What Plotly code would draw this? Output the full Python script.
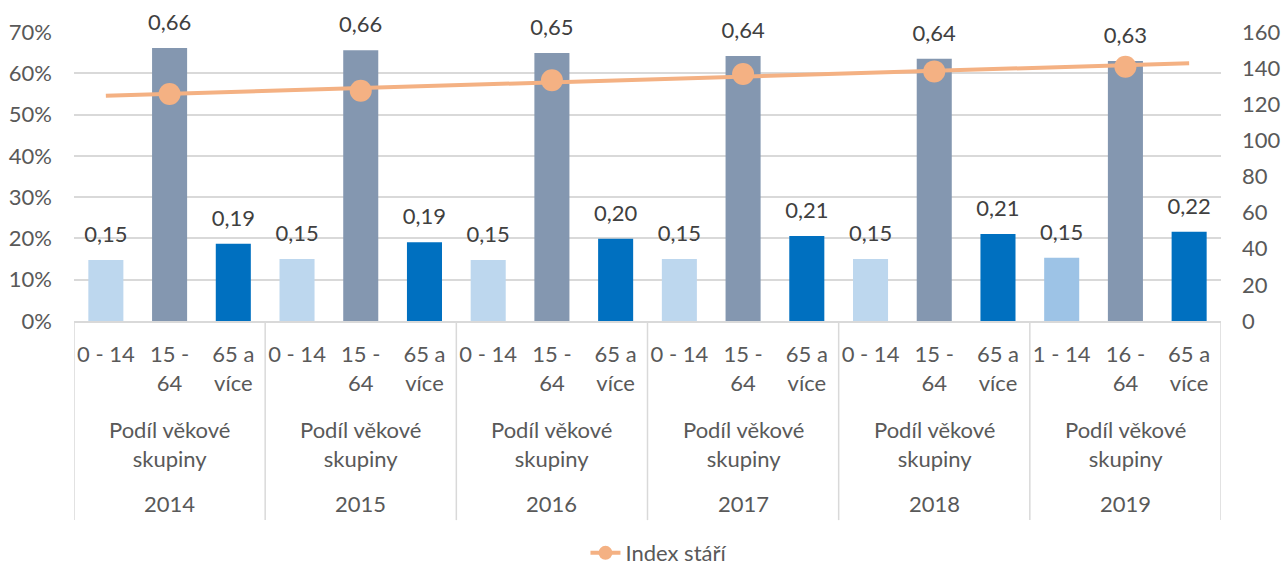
import numpy as np
import plotly.graph_objects as go

years = ["2014", "2015", "2016", "2017", "2018", "2019"]
age_labels = ["0 - 14", "15 -<br>64", "65 a<br>více",
              "0 - 14", "15 -<br>64", "65 a<br>více",
              "0 - 14", "15 -<br>64", "65 a<br>více",
              "0 - 14", "15 -<br>64", "65 a<br>více",
              "0 - 14", "15 -<br>64", "65 a<br>více",
              "1 - 14", "16 -<br>64", "65 a<br>více"]
group_label = "Podíl věkové<br>skupiny"
share_values = [0.148, 0.661, 0.187,
                0.150, 0.656, 0.191,
                0.148, 0.649, 0.199,
                0.150, 0.642, 0.206,
                0.150, 0.635, 0.211,
                0.153, 0.630, 0.216]
index_stari = [125.7, 127.5, 133.3, 136.8, 138.2, 140.8]
line_name = "Index stáří"

# styles
bar_colors = ["#BDD7EE", "#8497B0", "#0070C0"] * 5 + ["#9DC3E6", "#8497B0", "#0070C0"]
orange = "#F4B183"
grid = "#D9D9D9"
txt = "#595959"
FONT = "Lato"
FS = 22

n = len(share_values)
xpos = list(range(n))
mid_pos = [3 * i + 1 for i in range(len(years))]

fig = go.Figure()
fig.add_trace(go.Bar(
    x=xpos, y=share_values, width=0.55,
    marker=dict(color=bar_colors, line=dict(width=0)),
    showlegend=False,
))
# data labels above the bars
fig.add_trace(go.Scatter(
    x=xpos, y=share_values, mode="markers+text",
    marker=dict(size=18, color="rgba(0,0,0,0)"),
    texttemplate="%{y:.2f}", textposition="top center",
    textfont=dict(family=FONT, size=FS, color="#404040"),
    cliponaxis=False, showlegend=False, hoverinfo="skip",
))

# linear trend of the index across the whole category range
coef = np.polyfit(mid_pos, index_stari, 1)
tx = [xpos[0], xpos[-1]]
ty = list(np.polyval(coef, tx))
fig.add_trace(go.Scatter(
    x=tx, y=ty, yaxis="y2", mode="lines",
    line=dict(color=orange, width=4), showlegend=False, hoverinfo="skip",
))
fig.add_trace(go.Scatter(
    x=mid_pos, y=index_stari, yaxis="y2", mode="markers",
    marker=dict(color=orange, size=22), showlegend=False, cliponaxis=False,
))
fig.add_trace(go.Scatter(
    x=[None], y=[None], yaxis="y2", mode="lines+markers", name=line_name,
    line=dict(color=orange, width=4), marker=dict(color=orange, size=14),
))

# multi-level category labels
for i, yr in enumerate(years):
    c = 3 * i + 1
    fig.add_annotation(x=c, y=-0.4256, xref="x", yref="paper", text=group_label,
                       showarrow=False, yanchor="middle",
                       font=dict(family=FONT, size=FS, color=txt))
    fig.add_annotation(x=c, y=-0.633, xref="x", yref="paper", text=yr,
                       showarrow=False, yanchor="middle",
                       font=dict(family=FONT, size=FS, color=txt))
for k in range(len(years) + 1):
    xd = 3 * k - 0.5
    fig.add_shape(type="line", xref="x", yref="paper", x0=xd, x1=xd, y0=0, y1=-0.689,
                  line=dict(color=grid, width=1.5))

fig.update_layout(
    width=1283, height=566,
    margin=dict(l=74, r=62, t=32, b=245, autoexpand=False),
    paper_bgcolor="white", plot_bgcolor="white",
    separators=", ",
    font=dict(family=FONT, size=FS, color=txt),
    bargap=0.45,
    xaxis=dict(range=[-0.5, n - 0.5], tickmode="array", tickvals=xpos, ticktext=age_labels,
               showgrid=False, zeroline=False, showline=True, linecolor=grid, linewidth=1.5,
               ticks="", ticklabelstandoff=13, automargin=False,
               tickfont=dict(family=FONT, size=FS, color=txt)),
    yaxis=dict(range=[0, 0.7], dtick=0.1, tickformat=".0%", showgrid=True, gridcolor=grid,
               gridwidth=1.5, zeroline=False, showline=False, ticks="", ticklabelstandoff=21,
               automargin=False, tickfont=dict(family=FONT, size=FS, color=txt)),
    yaxis2=dict(range=[0, 160], dtick=20, overlaying="y", side="right", showgrid=False,
                zeroline=False, showline=False, ticks="", ticklabelstandoff=20,
                automargin=False, tickfont=dict(family=FONT, size=FS, color=txt)),
    legend=dict(orientation="h", x=0.51, xanchor="center", y=-0.803, yanchor="middle",
                font=dict(family=FONT, size=FS, color=txt), bgcolor="rgba(0,0,0,0)"),
    showlegend=True,
)

fig.write_html("out.html", config={"displayModeBar": False},
               post_script="document.body.style.margin='0px';")
